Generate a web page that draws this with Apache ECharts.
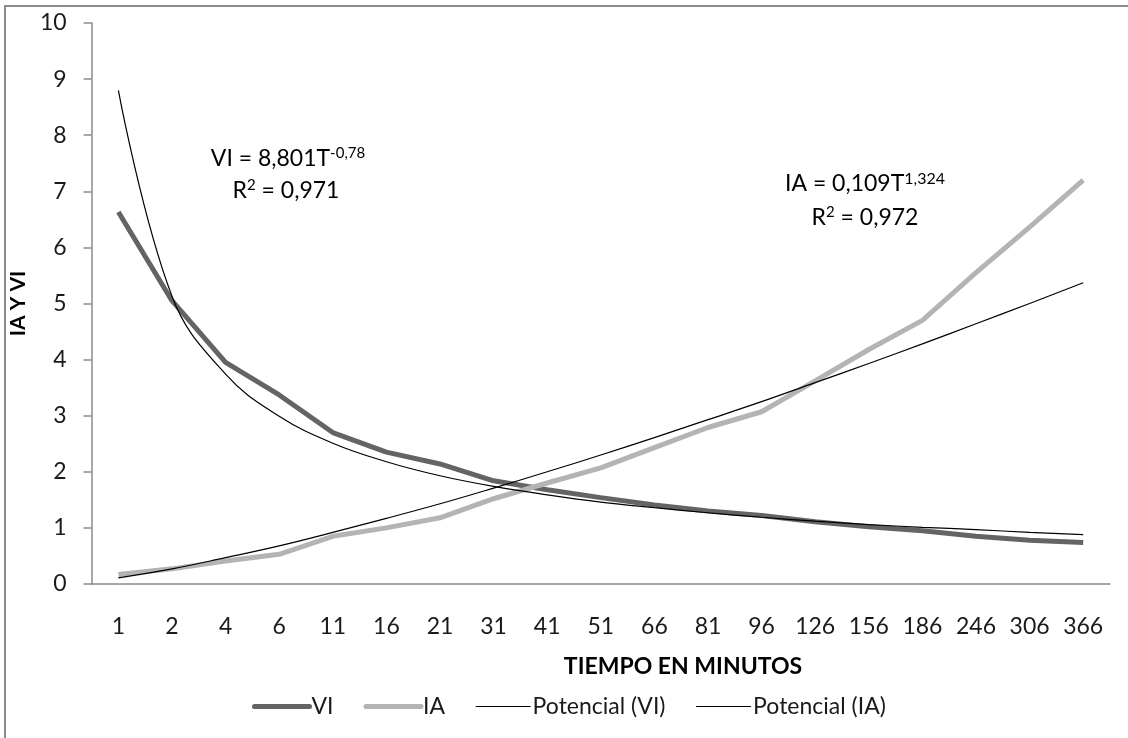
<!DOCTYPE html>
<html>
<head>
<meta charset="utf-8">
<script src="https://cdn.jsdelivr.net/npm/echarts@6/dist/echarts.min.js"></script>
<style>
html,body{margin:0;padding:0;background:#fff;}
#chart{width:1128px;height:738px;}
</style>
</head>
<body>
<div id="chart"></div>
<script>
const categories = ['1','2','4','6','11','16','21','31','41','51','66','81','96','126','156','186','246','306','366'];
const viValues = [6.63,5.05,3.95,3.37,2.70,2.35,2.14,1.84,1.68,1.54,1.41,1.30,1.22,1.11,1.02,0.95,0.85,0.78,0.74];
const iaValues = [0.17,0.27,0.41,0.53,0.85,1.00,1.18,1.52,1.80,2.07,2.43,2.79,3.07,3.62,4.18,4.70,5.55,6.36,7.20];
const viTrend = [8.80,5.13,3.74,2.99,2.51,2.18,1.93,1.74,1.59,1.46,1.36,1.27,1.19,1.12,1.06,1.01,0.97,0.92,0.88];
const iaTrend = [0.11,0.27,0.47,0.68,0.92,1.17,1.43,1.71,2.00,2.30,2.61,2.93,3.25,3.59,3.93,4.28,4.64,5.00,5.37];
const yTicks = [0,1,2,3,4,5,6,7,8,9,10];

const FONT = 'Lato';
const chart = echarts.init(document.getElementById('chart'), null, {renderer:'canvas'});
const axisGray = '#8a8a8a';
const viColor = '#646464', iaColor = '#b4b4b4';
const rb = {fontFamily:FONT, fontSize:23, color:'#1a1a1a', lineHeight:24, verticalAlign:'bottom'};
const rs = (sz) => ({fontFamily:FONT, fontSize:sz, color:'#1a1a1a', lineHeight:24, verticalAlign:'top'});
chart.setOption({
  animation: false,
  backgroundColor: '#ffffff',
  textStyle: {fontFamily: FONT},
  grid: {left: 76, right: 18, top: 23, bottom: 154, containLabel: false},
  xAxis: {
    type: 'category',
    data: categories,
    boundaryGap: true,
    axisLine: {show: true, lineStyle: {color: axisGray, width: 1.5}},
    axisTick: {show: false},
    axisLabel: {fontFamily: FONT, fontSize: 23, color: '#1a1a1a', margin: 31, interval: 0}
  },
  yAxis: {
    type: 'value',
    min: yTicks[0], max: yTicks[yTicks.length-1], interval: 1,
    name: 'IA Y VI',
    nameLocation: 'middle',
    nameRotate: 90,
    nameGap: 38,
    nameTextStyle: {fontFamily: FONT, fontSize: 21, fontWeight: 'bold', color: '#000'},
    axisLine: {show: true, lineStyle: {color: axisGray, width: 1.5}},
    axisTick: {show: true, inside: false, length: 8, lineStyle: {color: axisGray, width: 1.5}},
    splitLine: {show: false},
    axisLabel: {fontFamily: FONT, fontSize: 23, color: '#1a1a1a', margin: 25}
  },
  legend: {
    left: 247, top: 690,
    itemWidth: 55, itemHeight: 16, itemGap: 30,
    itemStyle: {opacity: 0},
    textStyle: {fontFamily: FONT, fontSize: 23, color: '#1a1a1a', padding: [0,0,0,-3]},
    data: [
      {name:'VI', lineStyle:{color:viColor, width:5, cap:'round'}},
      {name:'IA', lineStyle:{color:iaColor, width:5, cap:'round'}},
      {name:'Potencial (VI)', lineStyle:{color:'#000', width:1.2}},
      {name:'Potencial (IA)', lineStyle:{color:'#000', width:1.2}}
    ]
  },
  graphic: [
    {type:'rect', silent:true, shape:{x:5, y:6, width:1200, height:800}, style:{fill:'none', stroke:'#8c8c8c', lineWidth:2}},
    {type:'text', x:683, y:667, style:{text:'TIEMPO EN MINUTOS', font:'bold 23px Lato', fill:'#000', align:'center', verticalAlign:'middle'}},
    {type:'text', x:288, y:158, style:{
      text:'{b|VI = 8,801T}{s|-0,78}', align:'center', verticalAlign:'middle', rich:{b:rb, s:rs(15)}
    }},
    {type:'text', x:286, y:190, style:{
      text:'{b|R}{s|2}{b| = 0,971}', align:'center', verticalAlign:'middle', rich:{b:rb, s:rs(15)}
    }},
    {type:'text', x:865, y:183, style:{
      text:'{b|IA = 0,109T}{s|1,324}', align:'center', verticalAlign:'middle', rich:{b:rb, s:rs(16)}
    }},
    {type:'text', x:865, y:217, style:{
      text:'{b|R}{s|2}{b| = 0,972}', align:'center', verticalAlign:'middle', rich:{b:rb, s:rs(15)}
    }}
  ],
  series: [
    {name:'VI', type:'line', data: viValues, symbol:'none', lineStyle:{color:viColor, width:5}, itemStyle:{color:viColor}, z:2},
    {name:'IA', type:'line', data: iaValues, symbol:'none', lineStyle:{color:iaColor, width:5}, itemStyle:{color:iaColor}, z:2},
    {name:'Potencial (VI)', type:'line', data: viTrend, symbol:'none', smooth:0.4, lineStyle:{color:'#000', width:1.2}, itemStyle:{color:'#000'}, z:3},
    {name:'Potencial (IA)', type:'line', data: iaTrend, symbol:'none', smooth:0.4, lineStyle:{color:'#000', width:1.2}, itemStyle:{color:'#000'}, z:3}
  ]
});
</script>
</body>
</html>
